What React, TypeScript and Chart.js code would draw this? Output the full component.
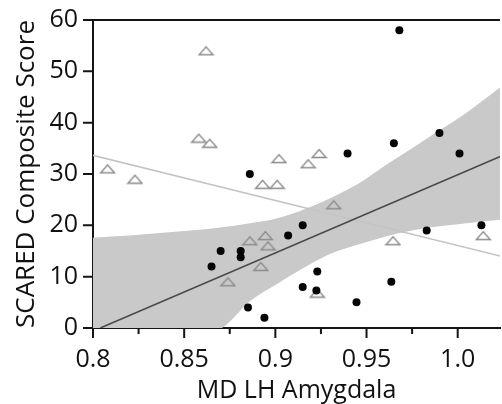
import React, { useEffect, useRef } from 'react';
import { Chart, registerables } from 'chart.js';

Chart.register(...registerables);

// Open triangles (grey) – x: MD LH Amygdala, y: SCARED score
const triX = [0.808, 0.823, 0.862, 0.858, 0.864, 0.902, 0.924, 0.918, 0.893, 0.901, 0.932, 0.8945, 0.896, 0.886, 0.892, 0.874, 0.923, 0.9645, 1.014];
const triY = [31, 29, 54, 37, 36, 33, 34, 32, 28, 28, 24, 18, 16, 17, 12, 9, 6.8, 17, 18];

// Filled dots (black)
const dotX = [0.968, 0.99, 0.965, 0.9396, 1.001, 0.886, 0.915, 0.907, 0.983, 1.013, 0.923, 0.915, 0.9445, 0.9636, 0.894, 0.885, 0.9225, 0.865, 0.87, 0.881, 0.881];
const dotY = [58, 38, 36, 34, 34, 30, 20, 18, 19, 20, 11, 8, 5, 9, 2, 4, 7.3, 12, 15, 15, 13.8];

// Fit line for dots (dark)
const dotFitX = [0.804, 1.035];
const dotFitY = [0, 35.2];

// Fit line for triangles (light)
const triFitX = [0.79, 1.035];
const triFitY = [34.5, 13.0];

// Confidence band for the dot fit
const bandX = [0.79, 0.8, 0.82, 0.84, 0.86, 0.873, 0.886, 0.9, 0.915, 0.93, 0.945, 0.96, 0.975, 0.99, 1.005, 1.023, 1.035];
const bandUpper = [17.4, 17.6, 18.0, 18.6, 19.2, 19.7, 20.4, 21.3, 23.0, 25.3, 28.0, 31.6, 35.0, 38.5, 42.0, 46.8, 50.2];
const bandLower = [-21.6, -18.8, -13.2, -7.6, -2.1, 0.6, 5.2, 8.4, 11.6, 14.4, 16.2, 17.8, 19.0, 19.8, 20.4, 21.1, 21.5];

// Axes
const xMin = 0.8;
const xMax = 1.0232;
const yMin = 0;
const yMax = 60;
const xMajor = [0.8, 0.85, 0.9, 0.95, 1.0];
const xMajorLabels = ['0.8', '0.85', '0.9', '0.95', '1.0'];
const xMinor = [0.825, 0.875, 0.925, 0.975];
const yTicks = [0, 10, 20, 30, 40, 50, 60];

const xTitle = 'MD LH Amygdala';
const yTitle = 'SCARED Composite Score';

const FONT = "'Open Sans', 'Noto Sans', sans-serif";
const AXIS = '#151515';
const TEXT = '#111111';

const pts = (xs: number[], ys: number[]) => xs.map((x, i) => ({ x, y: ys[i] }));

function makeTriangle(): HTMLCanvasElement {
  const c = document.createElement('canvas');
  c.width = 17;
  c.height = 11;
  const g = c.getContext('2d')!;
  g.strokeStyle = '#8a8a8a';
  g.lineWidth = 1.4;
  g.lineJoin = 'miter';
  g.beginPath();
  g.moveTo(1.5, 9.5);
  g.lineTo(15.5, 9.5);
  g.lineTo(8.5, 1.5);
  g.closePath();
  g.stroke();
  return c;
}

const framePlugin = {
  id: 'frame',
  afterDraw(chart: any) {
    const { ctx, chartArea: ca, scales } = chart;
    ctx.save();
    ctx.strokeStyle = AXIS;
    ctx.lineWidth = 2;
    ctx.beginPath();
    ctx.moveTo(ca.left - 1, ca.top);
    ctx.lineTo(ca.right, ca.top);
    xMajor.forEach((v) => {
      const p = scales.x.getPixelForValue(v);
      ctx.moveTo(p, ca.bottom);
      ctx.lineTo(p, ca.bottom + 10);
    });
    xMinor.forEach((v) => {
      const p = scales.x.getPixelForValue(v);
      ctx.moveTo(p, ca.bottom);
      ctx.lineTo(p, ca.bottom + 6);
    });
    yTicks.forEach((v) => {
      const p = scales.y.getPixelForValue(v);
      ctx.moveTo(ca.left - 10, p);
      ctx.lineTo(ca.left, p);
    });
    ctx.stroke();
    ctx.restore();
  },
};

export default function App() {
  const ref = useRef<HTMLCanvasElement | null>(null);

  useEffect(() => {
    if (!ref.current) return;
    const tri = makeTriangle();
    const chart = new Chart(ref.current, {
      type: 'scatter',
      data: {
        datasets: [
          {
            label: 'band-lower',
            data: pts(bandX, bandLower),
            showLine: true,
            borderWidth: 0,
            borderColor: 'rgba(0,0,0,0)',
            pointRadius: 0,
            cubicInterpolationMode: 'monotone',
            fill: false,
            order: 10,
          } as any,
          {
            label: 'band-upper',
            data: pts(bandX, bandUpper),
            showLine: true,
            borderWidth: 0,
            borderColor: 'rgba(0,0,0,0)',
            backgroundColor: '#c9c9c9',
            pointRadius: 0,
            cubicInterpolationMode: 'monotone',
            fill: '-1',
            order: 9,
          } as any,
          {
            label: 'tri-fit',
            data: pts(triFitX, triFitY),
            showLine: true,
            borderColor: '#c4c4c4',
            borderWidth: 1.6,
            pointRadius: 0,
            order: 5,
          } as any,
          {
            label: 'dot-fit',
            data: pts(dotFitX, dotFitY),
            showLine: true,
            borderColor: '#4a4a4a',
            borderWidth: 1.6,
            pointRadius: 0,
            order: 4,
          } as any,
          {
            label: 'triangles',
            data: pts(triX, triY),
            pointStyle: tri,
            pointRadius: 6,
            order: 2,
            clip: false,
          } as any,
          {
            label: 'dots',
            data: pts(dotX, dotY),
            pointStyle: 'circle',
            pointRadius: 4,
            backgroundColor: '#050505',
            borderColor: '#050505',
            borderWidth: 0,
            order: 1,
            clip: false,
          } as any,
        ],
      },
      options: {
        animation: false,
        responsive: true,
        maintainAspectRatio: false,
        layout: { padding: { left: 8, top: 17, right: 0, bottom: -2 } },
        plugins: {
          legend: { display: false },
          tooltip: { enabled: false },
        },
        scales: {
          x: {
            type: 'linear',
            min: xMin,
            max: xMax,
            afterBuildTicks: (scale: any) => {
              scale.ticks = [...xMajor, ...xMinor].sort((a, b) => a - b).map((v) => ({ value: v }));
            },
            afterFit: (scale: any) => {
              scale.height = 78;
              scale.paddingRight = 0;
              scale.paddingLeft = 0;
            },
            grid: { display: true, drawOnChartArea: false, drawTicks: true, tickLength: 10, color: 'rgba(0,0,0,0)' },
            border: { display: true, color: AXIS, width: 2 },
            ticks: {
              padding: 7,
              maxRotation: 0,
              autoSkip: false,
              color: TEXT,
              font: { family: FONT, size: 25 },
              callback: (value: any) => {
                const i = xMajor.findIndex((m) => Math.abs(m - Number(value)) < 1e-6);
                return i >= 0 ? xMajorLabels[i] : '';
              },
            },
            title: {
              display: true,
              text: xTitle,
              color: TEXT,
              font: { family: FONT, size: 25 },
              padding: { top: 0, bottom: 0 },
            },
          },
          y: {
            type: 'linear',
            min: yMin,
            max: yMax,
            afterBuildTicks: (scale: any) => {
              scale.ticks = yTicks.map((v) => ({ value: v }));
            },
            afterFit: (scale: any) => {
              scale.width = 85;
            },
            grid: { display: true, drawOnChartArea: false, drawTicks: true, tickLength: 10, color: 'rgba(0,0,0,0)' },
            border: { display: true, color: AXIS, width: 2 },
            ticks: {
              padding: 5,
              autoSkip: false,
              color: TEXT,
              font: { family: FONT, size: 25 },
            },
            title: {
              display: true,
              text: yTitle,
              color: TEXT,
              font: { family: FONT, size: 26 },
              padding: { top: 3, bottom: 0 },
            },
          },
        },
      },
      plugins: [framePlugin],
    } as any);
    return () => chart.destroy();
  }, []);

  return (
    <div style={{ position: 'absolute', left: 0, top: 0, width: 502, height: 404, overflow: 'hidden' }}>
      <div style={{ position: 'relative', width: 507, height: 404 }}>
        <canvas ref={ref} style={{ display: 'block' }} />
      </div>
    </div>
  );
}
